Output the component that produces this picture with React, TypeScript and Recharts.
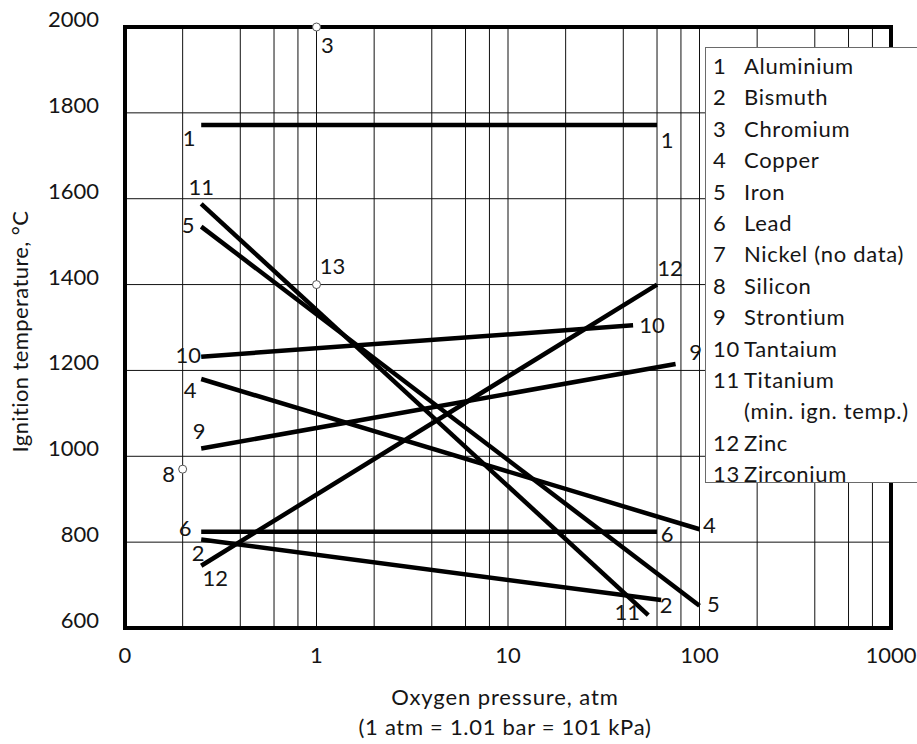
import React from 'react';
import {
  ComposedChart,
  Line,
  Scatter,
  XAxis,
  YAxis,
  CartesianGrid,
  ReferenceLine,
  LabelList,
  Legend,
  Label,
} from 'recharts';

// ---------- data ----------
// Oxygen pressure (atm) -> ignition temperature (°C), two ends per metal line
const aluminium = [{ p: 0.25, t: 1772 }, { p: 60, t: 1772 }];
const bismuth = [{ p: 0.25, t: 806 }, { p: 63, t: 665 }];
const copper = [{ p: 0.25, t: 1180 }, { p: 100, t: 830 }];
const iron = [{ p: 0.25, t: 1535 }, { p: 100, t: 652 }];
const lead = [{ p: 0.25, t: 824 }, { p: 60, t: 824 }];
const strontium = [{ p: 0.25, t: 1018 }, { p: 75, t: 1215 }];
const tantalum = [{ p: 0.25, t: 1232 }, { p: 45, t: 1305 }];
const titanium = [{ p: 0.25, t: 1588 }, { p: 54, t: 630 }];
const zinc = [{ p: 0.25, t: 745 }, { p: 60, t: 1400 }];
// single points
const chromium = [{ p: 1, t: 2000 }];
const silicon = [{ p: 0.2, t: 970 }];
const zirconium = [{ p: 1, t: 1400 }];

const xTicks = [0.1, 0.2, 0.4, 0.6, 0.8, 1, 2, 4, 6, 8, 10, 20, 40, 60, 80, 100, 200, 400, 600, 800, 1000];
const xDecades = [0.1, 1, 10, 100, 1000];
const xDecadeLabels = ['0', '1', '10', '100', '1000'];
const yTicks = [600, 800, 1000, 1200, 1400, 1600, 1800, 2000];

const legendNumbers = ['1', '2', '3', '4', '5', '6', '7', '8', '9', '10', '11', '', '12', '13'];
const legendNames = [
  'Aluminium',
  'Bismuth',
  'Chromium',
  'Copper',
  'Iron',
  'Lead',
  'Nickel (no data)',
  'Silicon',
  'Strontium',
  'Tantaium',
  'Titanium',
  '(min. ign. temp.)',
  'Zinc',
  'Zirconium',
];

// ---------- styles ----------
const FONT = 'Lato, "Liberation Sans", sans-serif';
const FS = 22;
const LS = 0.7;
const INK = '#151515';

// label offsets (start end, finish end) for each numbered line
const lineSeries = [
  { key: 'al', num: '1', data: aluminium, start: [-12, 13], end: [10, 15] },
  { key: 'bi', num: '2', data: bismuth, start: [-3, 14], end: [5, 5] },
  { key: 'cu', num: '4', data: copper, start: [-11, 11], end: [10, -4] },
  { key: 'fe', num: '5', data: iron, start: [-13, -2], end: [14, -2] },
  { key: 'pb', num: '6', data: lead, start: [-16, -4], end: [10, 2] },
  { key: 'sr', num: '9', data: strontium, start: [-2, -17], end: [20, -12] },
  { key: 'ta', num: '10', data: tantalum, start: [-13, -2], end: [19, 0] },
  { key: 'ti', num: '11', data: titanium, start: [0, -17], end: [-21, -3] },
  { key: 'zn', num: '12', data: zinc, start: [14, 12], end: [13, -16] },
];

const pointSeries = [
  { key: 'cr', num: '3', data: chromium, off: [11, 18] },
  { key: 'si', num: '8', data: silicon, off: [-14, 5] },
  { key: 'zr', num: '13', data: zirconium, off: [16, -18] },
];

const NumText = ({ x, y, children }: { x: number; y: number; children: React.ReactNode }) => (
  <text x={x} y={y} dy="0.36em" textAnchor="middle" fontFamily={FONT} fontSize={FS} fill={INK}>
    {children}
  </text>
);

const XTick = (props: any) => {
  const { x, y, payload } = props;
  const i = xDecades.indexOf(payload.value);
  if (i < 0) return null;
  return (
    <text x={x} y={y + 35} textAnchor="middle" fontFamily={FONT} fontSize={FS} fill={INK}>
      {xDecadeLabels[i]}
    </text>
  );
};

const YTick = (props: any) => {
  const { x, y, payload } = props;
  return (
    <text x={x} y={y} textAnchor="end" fontFamily={FONT} fontSize={FS} fill={INK}>
      {payload.value}
    </text>
  );
};

const renderLegend = () => (
  <div
    style={{
      boxSizing: 'border-box',
      width: 260,
      height: 436,
      border: '1px solid #6a6a6a',
      background: '#fff',
      padding: '2px 0 0 7px',
      fontFamily: FONT,
      fontSize: FS,
      letterSpacing: LS,
      color: INK,
      overflow: 'visible',
    }}
  >
    {legendNames.map((name, i) => (
      <div key={i} style={{ height: 31.4, lineHeight: '31.4px', whiteSpace: 'nowrap', display: 'flex' }}>
        <span style={{ display: 'inline-block', width: 31 }}>{legendNumbers[i]}</span>
        <span>{name}</span>
      </div>
    ))}
  </div>
);

const OpenDot = (props: any) => {
  const { cx, cy } = props;
  return <circle cx={cx} cy={cy} r={4} fill="#fff" stroke="#555" strokeWidth={1} />;
};

export default function App() {
  return (
    <div style={{ position: 'absolute', left: 0, top: 0, width: 917, height: 744, overflow: 'hidden', background: '#fff' }}>
      <ComposedChart width={917} height={744} margin={{ top: 27, right: 26, bottom: 86, left: 25 }}>
        <CartesianGrid stroke="#111" strokeWidth={1} />
        <XAxis
          dataKey="p"
          type="number"
          scale="log"
          domain={[0.1, 1000]}
          ticks={xTicks}
          interval={0}
          tickLine={false}
          axisLine={false}
          tickSize={0}
          tickMargin={0}
          height={30}
          tick={<XTick />}
        >
          <Label
            content={(p: any) => {
              const vb = p.viewBox || { x: 125, y: 628, width: 766 };
              const cx = vb.x + vb.width / 2 - 3;
              return (
                <g>
                  <text x={cx} y={vb.y + 77} textAnchor="middle" fontFamily={FONT} fontSize={FS} letterSpacing={LS + 0.2} fill={INK}>
                    Oxygen pressure, atm
                  </text>
                  <text x={cx} y={vb.y + 107} textAnchor="middle" fontFamily={FONT} fontSize={FS} letterSpacing={LS} fill={INK}>
                    (1 atm = 1.01 bar = 101 kPa)
                  </text>
                </g>
              );
            }}
          />
        </XAxis>
        <YAxis
          dataKey="t"
          type="number"
          domain={[600, 2000]}
          ticks={yTicks}
          interval={0}
          width={100}
          tickLine={false}
          axisLine={false}
          tickSize={0}
          tickMargin={26}
          tick={<YTick />}
        >
          <Label
            content={(p: any) => {
              const vb = p.viewBox || { x: 25, y: 27, width: 100, height: 601 };
              const cy = vb.y + vb.height / 2 + 4;
              return (
                <text
                  transform={`translate(28, ${cy}) rotate(-90)`}
                  textAnchor="middle"
                  fontFamily={FONT}
                  fontSize={FS}
                  letterSpacing={0.4}
                  fill={INK}
                >
                  Ignition temperature, °C
                </text>
              );
            }}
          />
        </YAxis>

        {lineSeries.map((s) => (
          <Line
            key={s.key}
            data={s.data}
            dataKey="t"
            stroke="#000"
            strokeWidth={4.5}
            dot={false}
            activeDot={false}
            isAnimationActive={false}
            legendType="none"
          >
            <LabelList
              dataKey="t"
              content={(p: any) => {
                const off = p.index === 0 ? s.start : s.end;
                const x = p.x ?? p.viewBox?.x;
                const y = p.y ?? p.viewBox?.y;
                return (
                  <NumText x={x + off[0]} y={y + off[1]}>
                    {s.num}
                  </NumText>
                );
              }}
            />
          </Line>
        ))}

        <ReferenceLine x={0.1} stroke="#000" strokeWidth={4} strokeLinecap="square" />
        <ReferenceLine x={1000} stroke="#000" strokeWidth={4} strokeLinecap="square" />
        <ReferenceLine y={600} stroke="#000" strokeWidth={4} strokeLinecap="square" />
        <ReferenceLine y={2000} stroke="#000" strokeWidth={4} strokeLinecap="square" />

        {pointSeries.map((s) => (
          <Scatter
            key={s.key}
            data={s.data}
            dataKey="t"
            shape={<OpenDot />}
            isAnimationActive={false}
            legendType="none"
          >
            <LabelList
              dataKey="t"
              content={(p: any) => {
                const x = (p.x ?? p.viewBox?.x) + (p.width ? p.width / 2 : 0);
                const y = (p.y ?? p.viewBox?.y) + (p.height ? p.height / 2 : 0);
                return (
                  <NumText x={x + s.off[0]} y={y + s.off[1]}>
                    {s.num}
                  </NumText>
                );
              }}
            />
          </Scatter>
        ))}

        <Legend
          layout="horizontal"
          verticalAlign="middle"
          align="center"
          content={renderLegend}
          wrapperStyle={{ position: 'absolute', left: 705, top: 47, width: 260, height: 436 }}
        />
      </ComposedChart>
    </div>
  );
}
